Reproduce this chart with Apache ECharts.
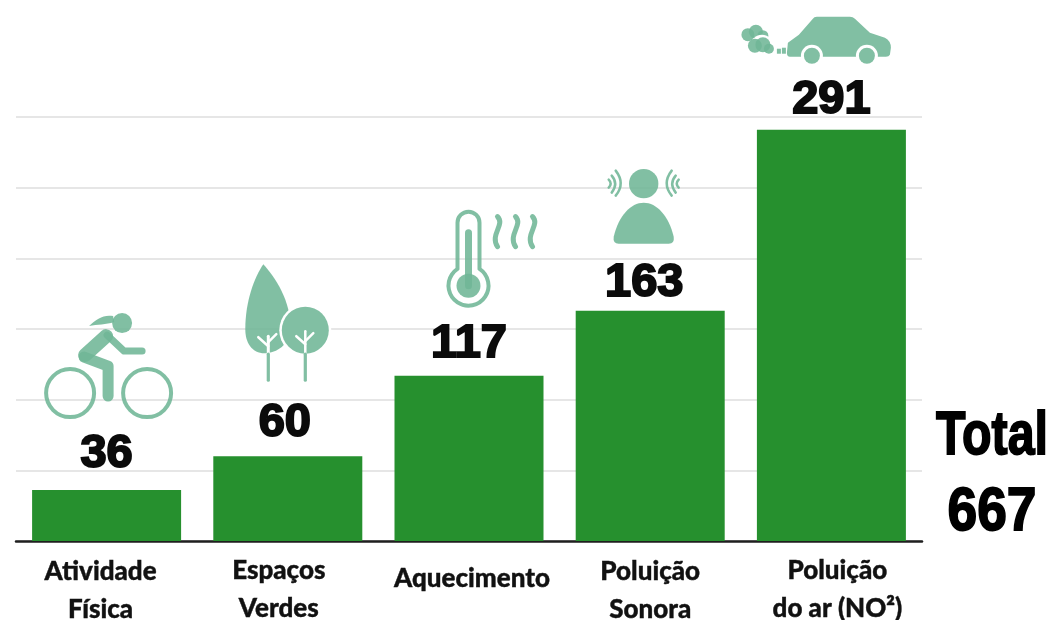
<!DOCTYPE html>
<html>
<head>
<meta charset="utf-8">
<style>
  html, body { margin: 0; padding: 0; background: #fff; }
  #main { width: 1050px; height: 620px; }
</style>
</head>
<body>
<div id="main"></div>
<script src="https://cdn.jsdelivr.net/npm/echarts@6/dist/echarts.min.js"></script>
<script>
var categories = ['Atividade\nFísica', 'Espaços\nVerdes', 'Aquecimento', 'Poluição\nSonora', 'Poluição\ndo ar (NO²)'];
var values = [36, 60, 117, 163, 291];
var yTicks = [0, 50, 100, 150, 200, 250, 300];
var totalLines = ['Total', '667'];

var GREEN = '#26902e';
var ICON = 'rgba(112,182,150,0.88)';

// the labels in the picture do not sit dead centre, nudge them by hand
var labelNudge = [[0, -4], [-3, -1], [0, 1], [-6, 5], [0, 3]];
var catNudge = [[-6, 1], [-9, -1], [3, 0], [0, 1], [6, -1]];

// icons are drawn in their own box, then hung off the top of their bar
var iconAnchors = [[106.5, 489], [287.5, 455], [468.5, 375], [649.5, 310], [831.5, 129]];

function line(d, w, color) {
  return { type: 'path', shape: { pathData: d }, style: { fill: 'none', stroke: color || ICON, lineWidth: w, lineCap: 'round', lineJoin: 'round' } };
}
function solid(d, color) {
  return { type: 'path', shape: { pathData: d }, style: { fill: color || ICON } };
}
function dot(cx, cy, r, color) {
  return { type: 'circle', shape: { cx: cx, cy: cy, r: r }, style: { fill: color || ICON } };
}
function ring(cx, cy, r, w) {
  return { type: 'circle', shape: { cx: cx, cy: cy, r: r }, style: { fill: 'none', stroke: ICON, lineWidth: w } };
}

var icons = [
  // ciclista
  [
    ring(70, 392, 24, 4),
    ring(147, 392, 24, 4),
    dot(122, 322, 10),
    solid('M113,315 C104,313 96,318 89,325 C97,323 106,324 114,321 Z'),
    line('M106,335 L85,354', 14),
    line('M107,334 L124,350 L142,350', 7),
    line('M84,356 L108,365 L108,395', 11)
  ],
  // árvores
  [
    solid('M263,263 C275,276 291,300 290,328 C289,343 277,352 264,352 C252,352 245,342 245,328 C245,300 254,276 263,263 Z'),
    line('M268,335 L268,352', 3, '#fff'),
    line('M268,345 L258,336', 2.5, '#fff'),
    line('M268,341 L276,333', 2.5, '#fff'),
    dot(305, 329, 26, '#fff'),
    dot(305, 329, 23.5),
    line('M305,352 L305,330', 2.5, '#fff'),
    line('M305,343 L296,335', 2.5, '#fff'),
    line('M305,340 L313,332', 2.5, '#fff'),
    line('M268,353 L268,379', 3.2),
    line('M305,353 L305,379', 3.2)
  ],
  // termómetro
  [
    line('M457,268.3 L457,222 A11,11 0 0 1 479,222 L479,268.3 A20,20 0 1 1 457,268.3 Z', 4),
    line('M468,232 L468,285', 7),
    dot(468, 285, 12),
    line('M497,216 C505,224 489,234 497,246', 5),
    line('M515,216 C523,224 507,234 515,246', 5),
    line('M532,216 C540,224 524,234 532,246', 5)
  ],
  // pessoa com ondas sonoras
  [
    dot(643, 183, 14.7),
    solid('M618,243 Q612,243 613,236 C618,215 630,202 643,202 C656,202 668,215 673,236 Q674,243 668,243 Z'),
    line('M608,179 Q612,183 608,187', 2.5),
    line('M611,175 Q618,183 611,192', 2.5),
    line('M615,170 Q625,183 615,195', 2.5),
    line('M678,179 Q674,183 678,187', 2.5),
    line('M675,175 Q668,183 675,192', 2.5),
    line('M671,170 Q661,183 671,195', 2.5)
  ],
  // carro
  [
    solid('M790,56 Q787,56 787,52 L788,42 L799,34 L813,18 Q814,16 817,16 L850,16 Q853,16 855,18 L870,32 L885,37 Q891,40 891,47 L890,54 Q889,56 886,56 Z'),
    dot(812, 55, 11, '#fff'),
    dot(812, 55, 8),
    dot(867, 55, 11, '#fff'),
    dot(867, 55, 8),
    dot(748, 34, 6.5),
    dot(756, 31, 7),
    dot(763, 35, 5.5),
    dot(762, 45, 11, '#fff'),
    dot(755, 45, 7),
    dot(763, 44, 7.5),
    dot(769, 48, 5),
    solid('M777,48 L781,48 L781,53 L777,53 Z'),
    solid('M782,47 L786,47 L786,53 L782,53 Z')
  ]
];

function totalText(text, y, sx) {
  return {
    type: 'text',
    x: 992,
    y: y,
    scaleX: sx,
    style: {
      text: text,
      fill: '#000',
      stroke: '#000',
      lineWidth: 1.8,
      font: 'bold 62px "Liberation Sans"',
      textAlign: 'center',
      textVerticalAlign: 'middle'
    }
  };
}

// one rich style per category so each label can carry its own nudge
var catRich = {};
categories.forEach(function (c, i) {
  var dx = catNudge[i][0], dy = catNudge[i][1];
  if (c.indexOf('\n') < 0) dy += 16;
  catRich['c' + i] = {
    fontFamily: 'Lato',
    fontWeight: 900,
    fontSize: 26,
    lineHeight: 38,
    color: '#111',
    textBorderColor: '#111',
    textBorderWidth: 0.4,
    padding: [Math.max(dy, 0), Math.max(-dx * 2, 0), Math.max(-dy, 0), Math.max(dx * 2, 0)]
  };
});

var myChart = echarts.init(document.getElementById('main'), null, { renderer: 'canvas' });
myChart.setOption({
  animation: false,
  backgroundColor: '#fff',
  graphic: [totalText(totalLines[0], 437, 0.78), totalText(totalLines[1], 513, 0.86)],
  grid: { left: 16, width: 906, top: 117, height: 424, outerBoundsMode: 'none' },
  xAxis: {
    type: 'category',
    data: categories,
    axisLine: { lineStyle: { color: '#1f1f1f', width: 2.5 } },
    axisTick: { show: false },
    axisLabel: {
      interval: 0,
      margin: 11,
      verticalAlign: 'top',
      formatter: function (value, index) {
        return value.split('\n').map(function (s) {
          return '{c' + index + '|' + s + '}';
        }).join('\n');
      },
      rich: catRich
    }
  },
  yAxis: {
    type: 'value',
    min: yTicks[0],
    max: yTicks[yTicks.length - 1],
    interval: 50,
    axisLine: { show: false },
    axisTick: { show: false },
    axisLabel: { show: false },
    splitLine: { lineStyle: { color: '#e6e6e6', width: 2 } }
  },
  series: [
    {
      type: 'bar',
      data: values.map(function (v, i) {
        return { value: v, label: { offset: labelNudge[i] } };
      }),
      barWidth: 149,
      itemStyle: { color: GREEN },
      label: {
        show: true,
        position: 'top',
        distance: 9,
        fontFamily: '"Liberation Sans"',
        fontWeight: 'bold',
        fontSize: 47,
        color: '#0b0b0b',
        textBorderColor: '#0b0b0b',
        textBorderWidth: 2
      },
      silent: true
    },
    {
      type: 'custom',
      silent: true,
      clip: false,
      z: 5,
      data: values.map(function (v, i) { return [i, v]; }),
      renderItem: function (params, api) {
        var i = api.value(0);
        var top = api.coord([i, api.value(1)]);
        return {
          type: 'group',
          x: top[0] - iconAnchors[i][0],
          y: top[1] - iconAnchors[i][1],
          children: icons[i]
        };
      }
    }
  ]
});
</script>
</body>
</html>
